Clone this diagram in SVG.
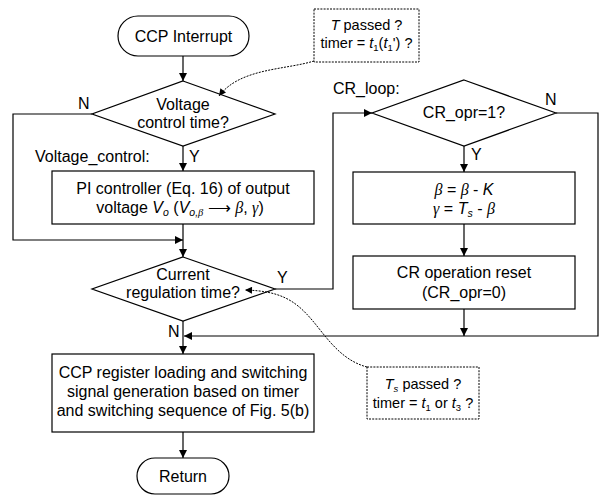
<svg xmlns="http://www.w3.org/2000/svg" width="606" height="496" viewBox="0 0 606 496">
<style>
.s{fill:#fff;stroke:#000;stroke-width:1.2}
.c{fill:none;stroke:#000;stroke-width:1.2}
.d{fill:none;stroke:#000;stroke-width:1;stroke-dasharray:2,1.2}
.db{fill:#fff;stroke:#000;stroke-width:1;stroke-dasharray:2,1.2}
text{font-family:"Liberation Sans",Arial,sans-serif;fill:#000}
.t{font-size:16px}
.a{font-size:14.5px}
.m{text-anchor:middle}
.i{font-style:italic}
.g{font-family:"Liberation Serif","DejaVu Serif",serif;font-style:italic}
</style>
<defs>
<marker id="ah" viewBox="0 0 10 10" refX="10" refY="5" markerWidth="10" markerHeight="8" markerUnits="userSpaceOnUse" orient="auto"><path d="M0,0 L10,5 L0,10 z" fill="#000"/></marker>
<marker id="ad" viewBox="0 0 10 10" refX="10" refY="5" markerWidth="9" markerHeight="7" markerUnits="userSpaceOnUse" orient="auto"><path d="M0,0 L10,5 L0,10 z" fill="#000"/></marker>
</defs>

<g id="start">
<rect class="s" x="118" y="16" width="131" height="40" rx="20"/>
<text class="t m" x="183.5" y="41.5">CCP Interrupt</text>
</g>

<g id="voltage-decision">
<polygon class="s" points="183,81 275,114 183,146 92,114"/>
<text class="t m" x="183" y="110">Voltage</text>
<text class="t m" x="183" y="128">control time?</text>
<text class="t" x="78" y="109">N</text>
<text class="t" x="189" y="162">Y</text>
<text class="t" x="35" y="162">Voltage_control:</text>
</g>

<g id="pi-controller">
<rect class="s" x="52" y="171" width="262" height="53"/>
<text class="t m" x="183" y="194">PI controller (Eq. 16) of output</text>
<text class="t m" x="180" y="213">voltage <tspan class="i">V</tspan><tspan class="i" font-size="10.5" dy="3">o</tspan><tspan dy="-3"> (</tspan><tspan class="i">V</tspan><tspan class="i" font-size="10.5" dy="3">o,</tspan><tspan class="g" font-size="10.5">β</tspan><tspan dy="-3"> ⟶ </tspan><tspan class="g">β</tspan>, <tspan class="g">γ</tspan>)</text>
</g>

<g id="current-decision">
<polygon class="s" points="183,257 275,289 183,321 92,289"/>
<text class="t m" x="183" y="280">Current</text>
<text class="t m" x="183" y="298">regulation time?</text>
<text class="t" x="277" y="283">Y</text>
<text class="t" x="168" y="337">N</text>
</g>

<g id="cr-decision">
<polygon class="s" points="464,80 556,113 464,146 372,113"/>
<text class="t m" x="464" y="118">CR_opr=1?</text>
<text class="t" x="333" y="94">CR_loop:</text>
<text class="t" x="545" y="105">N</text>
<text class="t" x="471" y="160">Y</text>
</g>

<g id="beta-gamma">
<rect class="s" x="353" y="172" width="222" height="52"/>
<text class="t m" x="464" y="195"><tspan class="g">β</tspan> = <tspan class="g">β</tspan> - <tspan class="i">K</tspan></text>
<text class="t m" x="464" y="214"><tspan class="g">γ</tspan> = <tspan class="i">T</tspan><tspan class="i" font-size="10.5" dy="3">s</tspan><tspan dy="-3"> - </tspan><tspan class="g">β</tspan></text>
</g>

<g id="cr-reset">
<rect class="s" x="353" y="256" width="222" height="53"/>
<text class="t m" x="464" y="278">CR operation reset</text>
<text class="t m" x="464" y="298">(CR_opr=0)</text>
</g>

<g id="ccp-register">
<rect class="s" x="52" y="354" width="262" height="78"/>
<text class="t m" x="183" y="378">CCP register loading and switching</text>
<text class="t m" x="183" y="397">signal generation based on timer</text>
<text class="t m" x="183" y="416">and switching sequence of Fig. 5(b)</text>
</g>

<g id="return">
<rect class="s" x="137" y="458" width="92" height="36" rx="18"/>
<text class="t m" x="183" y="482">Return</text>
</g>

<g id="note-t">
<rect class="db" x="314" y="9" width="105" height="53"/>
<text class="a m" x="366.5" y="30"><tspan class="i">T</tspan> passed ?</text>
<text class="a m" x="366.5" y="48">timer = <tspan class="i">t</tspan><tspan font-size="9.5" dy="2.5">1</tspan><tspan dy="-2.5">(</tspan><tspan class="i">t</tspan><tspan font-size="9.5" dy="2.5">1</tspan><tspan dy="-2.5">') ?</tspan></text>
</g>

<g id="note-ts">
<rect class="db" x="367" y="367" width="112" height="52"/>
<text class="a m" x="423" y="389"><tspan class="i">T</tspan><tspan class="i" font-size="9.5" dy="2.5">s</tspan><tspan dy="-2.5"> passed ?</tspan></text>
<text class="a m" x="423" y="408">timer = <tspan class="i">t</tspan><tspan font-size="9.5" dy="2.5">1</tspan><tspan dy="-2.5"> or </tspan><tspan class="i">t</tspan><tspan font-size="9.5" dy="2.5">3</tspan><tspan dy="-2.5"> ?</tspan></text>
</g>

<g id="connectors">
<path class="c" d="M183,56 V81" marker-end="url(#ah)"/>
<path class="c" d="M183,146 V171" marker-end="url(#ah)"/>
<path class="c" d="M92,114 H13 V240 H183" marker-end="url(#ah)"/>
<path class="c" d="M183,224 V257" marker-end="url(#ah)"/>
<path class="c" d="M275,289 H333 V113 H372" marker-end="url(#ah)"/>
<path class="c" d="M464,146 V172" marker-end="url(#ah)"/>
<path class="c" d="M464,224 V256" marker-end="url(#ah)"/>
<path class="c" d="M464,309 V336" marker-end="url(#ah)"/>
<path class="c" d="M556,113 H598 V336 H184" marker-end="url(#ah)"/>
<path class="c" d="M183,321 V354" marker-end="url(#ah)"/>
<path class="c" d="M183,432 V458" marker-end="url(#ah)"/>
<path class="d" d="M314,61 C285,70 240,68 219,96" marker-end="url(#ad)"/>
<path class="d" d="M367,367 C340,360 325,335 312,320 C295,300 280,291 245,290" marker-end="url(#ad)"/>
</g>
</svg>
